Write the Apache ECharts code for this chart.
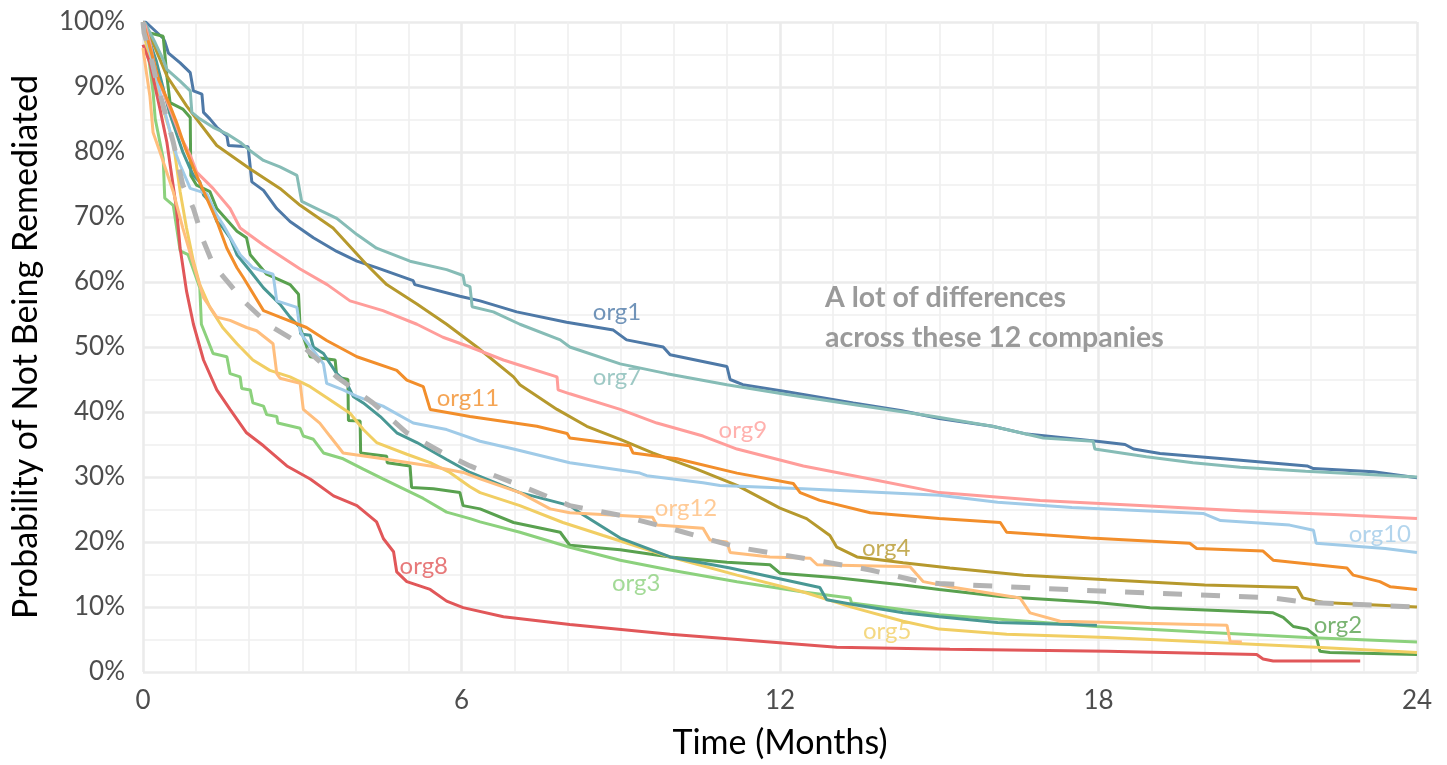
<!DOCTYPE html>
<html>
<head>
<meta charset="utf-8">
<script src="https://cdn.jsdelivr.net/npm/echarts@6/dist/echarts.min.js"></script>
<style>
html,body{margin:0;padding:0;background:#fff;}
#chart{width:1447px;height:765px;}
</style>
</head>
<body>
<div id="chart"></div>
<script>
// ---- data: [months, percent not remediated] ----
const org1 = [[0,100],[0.05,100],[0.38,97.5],[0.41,97],[0.48,95.2],[0.7,93.7],[0.89,92.2],[0.95,89.4],[1.11,88.9],[1.14,86.1],[1.26,85.1],[1.39,83.8],[1.58,82.5],[1.61,81],[1.98,80.8],[2.05,75.4],[2.27,74.1],[2.52,71.3],[2.77,69.3],[3.21,66.8],[3.65,64.7],[4.03,63.2],[4.4,62.2],[5.09,60.2],[5.12,59.6],[5.97,57.8],[6.35,57.1],[7.04,55.4],[7.98,53.8],[8.86,52.6],[9.11,51.1],[9.8,50.0],[9.93,48.8],[11.0,47.0],[11.06,45.0],[11.3,44.2],[12.13,43.1],[13.38,41.4],[14.3,40.2],[15.0,39.0],[16.0,37.8],[16.65,36.6],[17.97,35.5],[18.5,35.0],[18.66,34.3],[19.16,33.6],[20.35,32.8],[21.93,31.7],[22.05,31.3],[23.18,30.8],[24,29.9]];
const org2 = [[0,100],[0.13,98.3],[0.38,97.8],[0.45,91.7],[0.51,87.6],[0.75,86.6],[0.89,85.3],[0.9,76.4],[1.01,74.9],[1.26,73.9],[1.39,71.3],[1.77,67.8],[1.95,66.8],[2.02,64.2],[2.33,61.2],[2.77,59.6],[2.93,58.1],[2.96,53.0],[3.15,48.5],[3.62,48.0],[3.65,45.4],[3.86,45.0],[3.87,38.7],[4.09,38.6],[4.1,33.7],[4.59,33.2],[4.6,32.2],[5.03,31.7],[5.06,28.4],[5.47,28.2],[5.97,27.6],[6.03,25.6],[6.35,25.1],[6.98,23.0],[7.86,21.5],[8.04,19.5],[8.99,18.8],[9.93,17.7],[11.0,16.9],[11.81,16.5],[12.0,15.2],[13.07,14.5],[14.32,13.4],[15.0,12.7],[16.15,11.6],[17.97,10.7],[18.97,9.9],[21.29,9.1],[21.48,8.4],[21.67,7.0],[21.93,6.6],[22.1,5.5],[22.17,3.2],[22.36,3.0],[24,2.7]];
const org3 = [[0,100],[0.1,95],[0.19,89.2],[0.23,85.1],[0.38,79.0],[0.41,72.9],[0.57,71.8],[0.7,64.8],[0.85,64.2],[1.07,59.1],[1.1,53.5],[1.32,49.0],[1.58,48.5],[1.64,45.9],[1.83,45.4],[1.86,43.6],[2.02,43.4],[2.07,41.4],[2.27,40.9],[2.33,39.6],[2.52,39.3],[2.54,38.3],[2.96,37.5],[3.02,36.3],[3.21,35.8],[3.4,33.7],[3.77,32.8],[4.15,31.2],[4.52,29.7],[4.9,28.2],[5.28,26.7],[5.72,24.6],[6.16,23.6],[6.35,23.1],[7.1,21.5],[8.04,19.2],[8.99,17.2],[9.93,15.7],[11.19,13.9],[12.44,12.3],[13.32,11.4],[13.35,10.6],[14.3,9.6],[15.0,8.8],[17.97,7.0],[20.0,6.1],[21.93,5.3],[24,4.6]];
const org4 = [[0,100],[0.02,99.3],[0.19,96.8],[0.45,91.7],[0.82,87.1],[1.39,81.0],[2.02,77.4],[2.58,74.4],[2.96,71.8],[3.58,68.3],[4.21,62.7],[4.59,59.6],[5.16,56.6],[5.72,53.5],[6.29,50.0],[6.98,45.4],[7.1,44.2],[7.8,40.4],[8.36,37.8],[8.99,35.8],[9.6,33.7],[10.43,31.2],[11.19,28.7],[12.0,25.2],[12.5,23.6],[12.94,21.0],[13.07,19.2],[13.45,17.7],[14.32,16.8],[15.2,16.0],[16.59,14.9],[18.16,14.2],[20.0,13.4],[21.74,13.0],[21.85,11.4],[22.23,10.7],[24,10.0]];
const org5 = [[0,100],[0.05,97],[0.19,92.7],[0.38,86.6],[0.57,81.5],[0.7,73.9],[0.82,68.3],[0.95,63.2],[1.07,59.6],[1.26,56.1],[1.5,53.0],[1.77,50.5],[2.07,48.0],[2.39,46.4],[2.77,45.4],[3.15,43.9],[3.52,41.9],[3.9,39.8],[4.15,37.3],[4.4,35.3],[4.97,33.5],[5.41,32.2],[5.78,30.7],[6.16,28.5],[6.35,27.6],[7.1,25.6],[7.91,23.0],[8.67,21.0],[9.93,17.7],[11.19,14.9],[12.44,12.3],[13.38,9.9],[14.32,7.8],[15.0,6.6],[16.27,5.8],[18.16,5.3],[20.0,4.6],[22.1,3.8],[24,3.0]];
const org6 = [[0,100],[0.25,94],[0.5,86],[0.75,80],[0.89,77.4],[0.95,76.4],[1.07,75.4],[1.14,73.4],[1.26,72.3],[1.39,69.3],[1.51,68.3],[1.64,66.8],[1.77,64.2],[2.02,61.7],[2.27,59.1],[2.58,56.6],[2.77,54.6],[2.96,53.0],[2.97,52.0],[3.15,51.8],[3.21,50.0],[3.4,49.0],[3.52,47.5],[3.65,45.9],[3.84,44.4],[3.96,42.4],[4.15,41.4],[4.47,39.3],[4.78,36.8],[5.16,35.3],[5.72,32.7],[6.16,30.7],[7.1,27.6],[8.04,25.6],[8.23,24.5],[8.99,20.6],[9.93,17.7],[11.06,16.0],[12.75,13.0],[12.88,11.1],[13.38,10.4],[14.32,9.1],[15.0,8.5],[16.1,7.6],[17.97,7.2]];
const org7 = [[0,100],[0.04,99.8],[0.23,96.8],[0.38,94.2],[0.45,92.7],[0.7,90.9],[0.89,89.4],[0.92,86.1],[1.07,85.1],[1.32,83.8],[1.58,82.8],[1.83,81.5],[2.02,80.2],[2.27,78.7],[2.58,77.7],[2.9,76.4],[2.99,72.4],[3.27,71.3],[3.65,69.8],[4.03,67.3],[4.4,65.2],[5.03,63.2],[5.72,61.9],[6.03,61.0],[6.06,59.6],[6.16,59.3],[6.2,56.2],[6.6,55.4],[7.1,53.5],[7.86,51.1],[8.04,50.0],[8.99,47.4],[9.87,45.9],[11.0,44.2],[12.13,42.7],[13.5,41.0],[14.9,39.3],[16.0,37.8],[16.96,36.0],[17.9,35.5],[17.93,34.3],[18.9,33.1],[19.78,32.2],[20.67,31.5],[21.9,30.9],[24,30.0]];
const org8 = [[0,96.5],[0.13,93.7],[0.32,86.6],[0.45,81.5],[0.63,71.3],[0.7,65.2],[0.82,58.6],[0.95,53.5],[1.14,48.0],[1.39,43.4],[1.64,40.4],[1.95,36.8],[2.27,34.8],[2.71,31.7],[3.15,29.7],[3.59,27.1],[4.03,25.6],[4.4,23.1],[4.53,20.5],[4.72,18.5],[4.78,15.4],[4.97,13.9],[5.41,12.7],[5.72,10.9],[6.03,9.9],[6.79,8.5],[8.04,7.3],[9.93,5.8],[11.81,4.6],[13.07,3.8],[15.2,3.5],[18.16,3.2],[20.98,2.7],[21.1,2.0],[21.29,1.7],[22.93,1.7]];
const org9 = [[0,100],[0.04,99.5],[0.13,96.8],[0.26,91.7],[0.51,86.6],[0.7,82.5],[0.89,79.5],[1.01,76.9],[1.32,74.4],[1.64,71.3],[1.83,68.3],[2.27,65.7],[2.96,62.0],[3.47,59.6],[3.9,57.1],[4.52,55.6],[5.16,53.5],[5.65,51.5],[6.16,50.0],[6.79,48.0],[7.1,47.2],[7.8,45.4],[7.82,43.4],[8.04,42.8],[8.99,40.4],[9.68,38.3],[10.55,36.3],[11.19,34.3],[12.44,31.7],[13.7,29.7],[15.0,27.6],[16.9,26.4],[18.78,25.6],[20.67,24.8],[22.55,24.2],[24,23.6]];
const org10 = [[0,100],[0.2,93],[0.45,85],[0.63,79.5],[0.7,78.0],[0.89,74.4],[1.2,73.6],[1.39,70.3],[1.51,68.8],[1.83,64.2],[2.07,62.2],[2.45,61.2],[2.52,57.1],[2.9,56.1],[2.96,52.5],[3.02,51.5],[3.4,47.4],[3.46,44.4],[3.77,43.4],[4.03,42.4],[4.52,40.9],[5.09,38.3],[5.72,37.3],[6.35,35.5],[6.98,34.3],[8.04,32.2],[9.36,30.6],[9.49,30.2],[10.55,29.1],[10.87,28.7],[12.44,28.2],[15.0,27.2],[16.1,26.1],[17.5,25.3],[19.97,24.4],[20.3,23.3],[21.6,22.6],[22.05,21.8],[22.1,19.8],[23.4,19.0],[24,18.4]];
const org11 = [[0,100],[0.1,97],[0.3,91],[0.51,87.1],[0.63,84.6],[0.8,80.5],[1.01,76.4],[1.2,72.9],[1.39,69.4],[1.58,65.2],[1.77,62.2],[1.89,60.7],[2.27,55.6],[2.58,54.6],[3.08,53.0],[3.46,51.0],[4.03,48.5],[4.78,46.4],[4.97,44.9],[5.28,43.9],[5.41,40.4],[6.16,39.3],[7.42,37.8],[7.99,36.7],[8.04,36.0],[9.17,34.8],[9.23,33.7],[10.06,32.8],[11.19,30.6],[12.25,29.0],[12.38,27.6],[12.75,26.4],[13.7,24.5],[15.0,23.6],[16.15,23.0],[16.27,21.5],[17.84,20.6],[19.72,19.8],[19.85,19.0],[21.1,18.6],[21.29,17.2],[22.68,16.0],[22.8,14.9],[23.3,13.9],[23.5,13.1],[24,12.7]];
const org12 = [[0,96],[0.02,94.7],[0.13,88.6],[0.19,83.0],[0.32,80.0],[0.57,73.9],[0.75,68.3],[0.95,62.7],[1.14,57.6],[1.39,54.6],[1.64,54.1],[1.95,53.0],[2.14,52.5],[2.45,50.5],[2.52,45.9],[2.58,45.2],[2.96,44.4],[3.02,40.4],[3.33,38.3],[3.52,36.3],[3.77,33.7],[4.52,32.8],[5.41,31.7],[6.03,30.7],[6.35,29.7],[7.1,27.6],[7.67,25.1],[8.04,24.5],[9.6,23.8],[9.68,22.6],[10.55,22.1],[10.68,20.3],[11.0,20.0],[11.06,18.4],[11.81,17.7],[12.57,17.5],[12.7,16.5],[14.45,16.2],[14.7,13.9],[15.2,13.1],[16.52,11.4],[16.71,9.1],[17.28,7.8],[20.42,7.2],[20.48,4.7],[20.7,4.6]];
const average = [[0,100],[0.02,98.3],[0.13,95.3],[0.26,90.7],[0.45,85.1],[0.57,81.5],[0.75,74.9],[0.95,71.3],[1.14,66.3],[1.32,62.7],[1.64,59.6],[1.89,57.1],[2.39,53.3],[2.96,50.5],[3.65,45.4],[4.33,41.4],[4.97,36.8],[5.65,33.7],[6.16,31.7],[7.1,28.7],[8.04,25.6],[8.99,24.1],[9.93,22.1],[11.19,19.2],[12.44,17.5],[13.7,15.7],[14.64,13.9],[15.0,13.6],[18.16,12.4],[21.29,11.4],[21.93,10.7],[24,10.0]];

const seriesNames = ['org1','org2','org3','org4','org5','org6','org7','org8','org9','org10','org11','org12'];
const seriesData = [org1,org2,org3,org4,org5,org6,org7,org8,org9,org10,org11,org12];
const seriesColors = ['#4E79A7','#59A14F','#8CD17D','#B6992D','#F1CE63','#499894','#86BCB6','#E15759','#FF9D9A','#A0CBE8','#F28E2B','#FFBE7D'];
// direct labels: [months, percent] anchor for each org name (org6 unlabeled)
const labelPos = {
  org1:[8.93,55.3], org2:[22.51,7.2], org3:[9.29,13.6], org4:[14.0,19.1],
  org5:[14.02,6.3], org7:[8.93,45.3], org8:[5.29,16.2], org9:[11.3,37.2],
  org10:[23.3,21.2], org11:[6.12,42.1], org12:[10.23,25.2]
};
const xTicks = [0,6,12,18,24];
const annotation = 'A lot of differences\nacross these 12 companies';

const FONT = "'Source Sans Pro','Lato','Noto Sans',sans-serif";
const chart = echarts.init(document.getElementById('chart'), null, {renderer:'canvas'});

const series = [];
seriesNames.forEach((n,i)=>{
  series.push({
    name:n, type:'line', data:seriesData[i], showSymbol:false, symbol:'none',
    lineStyle:{color:seriesColors[i], width:3}, itemStyle:{color:seriesColors[i]},
    silent:true, z:2
  });
});
series.push({
  name:'average', type:'line', data:average, showSymbol:false, symbol:'none',
  lineStyle:{color:'#b3b3b3', width:5, type:[19,19]}, silent:true, z:3
});
seriesNames.forEach((n,i)=>{
  if(!labelPos[n]) return;
  series.push({
    name:n+'-label', type:'scatter', data:[labelPos[n]], symbolSize:0, silent:true, z:4,
    label:{show:true, position:'inside', formatter:n, color:seriesColors[i], fontSize:24, fontFamily:FONT}
  });
});

chart.setOption({
  animation:false,
  backgroundColor:'#ffffff',
  grid:{left:143, right:30, top:22, bottom:87, containLabel:false},
  title:{
    text:annotation, left:820, top:273,
    textStyle:{color:'#9a9a9a', fontSize:28.5, fontWeight:'bold', fontFamily:FONT, lineHeight:40}
  },
  xAxis:{
    type:'value', min:0, max:24, interval:6,
    name:'Time (Months)', nameLocation:'middle', nameGap:54,
    nameTextStyle:{color:'#000', fontSize:34, fontFamily:FONT},
    axisLine:{show:false}, axisTick:{show:false},
    axisLabel:{color:'#4d4d4d', fontSize:26, fontFamily:FONT, margin:16,
      formatter:v=>xTicks.includes(v)?String(v):''},
    splitLine:{show:true, lineStyle:{color:'#ebebeb', width:2.6}},
    minorTick:{show:false, splitNumber:6},
    minorSplitLine:{show:true, lineStyle:{color:'#efefef', width:1.6}}
  },
  yAxis:{
    type:'value', min:0, max:100, interval:10,
    name:'Probability of Not Being Remediated', nameLocation:'middle', nameGap:100,
    nameTextStyle:{color:'#000', fontSize:34, fontFamily:FONT},
    axisLine:{show:false}, axisTick:{show:false},
    axisLabel:{color:'#4d4d4d', fontSize:26, fontFamily:FONT, margin:18, formatter:v=>v+'%'},
    splitLine:{show:true, lineStyle:{color:'#ebebeb', width:2.6}},
    minorTick:{show:false, splitNumber:2},
    minorSplitLine:{show:true, lineStyle:{color:'#efefef', width:1.6}}
  },
  series:series
});
</script>
</body>
</html>
